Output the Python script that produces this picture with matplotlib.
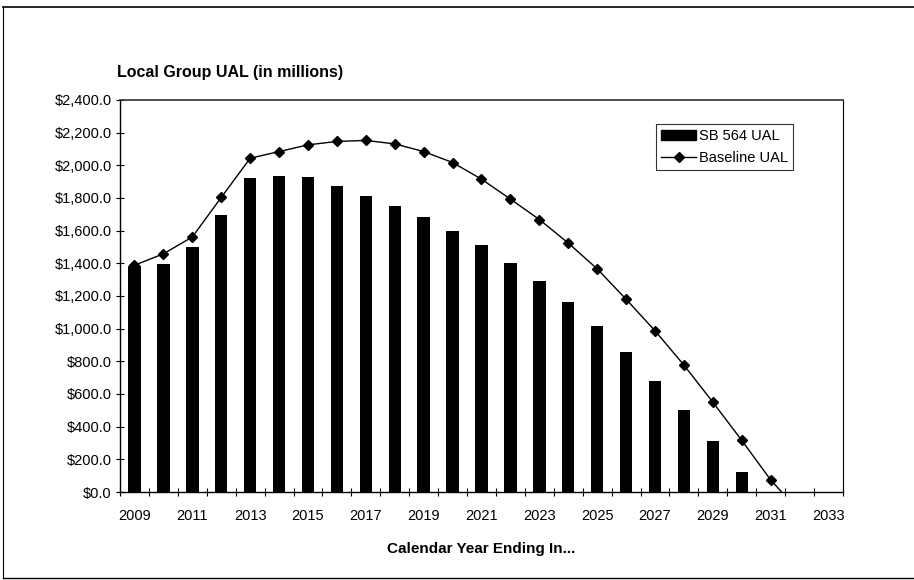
import matplotlib
matplotlib.use("Agg")
import matplotlib.pyplot as plt
from matplotlib.ticker import FuncFormatter, FixedLocator
from matplotlib.lines import Line2D
import numpy as np

plt.rcParams['font.family'] = ['Liberation Sans', 'DejaVu Sans']

# Years on the category axis (Excel-style, one slot per year)
years = list(range(2009, 2034))

# SB 564 UAL, $ millions, 2009-2030
sb564_ual = [1385, 1393, 1497, 1694, 1924, 1937, 1926, 1873, 1809, 1750, 1682,
             1598, 1510, 1401, 1290, 1161, 1017, 857, 679, 500, 310, 125]

# Baseline UAL, $ millions, 2009-2032 (last point runs below the axis floor)
baseline_ual = [1388, 1458, 1561, 1803, 2043, 2084, 2125, 2146, 2152, 2131, 2084,
                2017, 1915, 1793, 1668, 1524, 1366, 1180, 987, 777, 550, 316, 74, -120]

fig = plt.figure(figsize=(9.14, 5.8), dpi=100)
ax = fig.add_axes([0.1313, 0.1517, 0.791, 0.676])

x_bar = np.arange(len(sb564_ual))
x_line = np.arange(len(baseline_ual))

ax.bar(x_bar, sb564_ual, width=0.43, color='black', zorder=2)
ax.plot(x_line, baseline_ual, color='black', lw=1.0, marker='D', markersize=5, zorder=3)

ax.set_xlim(-0.5, len(years) - 0.5)
ax.set_ylim(0, 2400)

# y axis: dollar labels every 200
ax.set_yticks(np.arange(0, 2401, 200))
ax.yaxis.set_major_formatter(FuncFormatter(lambda v, p: f"${v:,.1f}"))
ax.tick_params(axis='y', direction='inout', length=6, width=0.8, labelsize=10.5, pad=3)

# x axis: tick marks between categories, labels on every other year
ax.xaxis.set_major_locator(FixedLocator(np.arange(0, len(years), 2)))
ax.set_xticklabels([str(y) for y in years[::2]])
ax.xaxis.set_minor_locator(FixedLocator(np.arange(-0.5, len(years), 1)))
ax.tick_params(axis='x', which='major', length=0, labelsize=10.5, pad=12)
ax.tick_params(axis='x', which='minor', direction='inout', length=6, width=0.8)

for side in ['left', 'bottom']:
    ax.spines[side].set_linewidth(1.0)
ax.spines['top'].set_linewidth(1.2)
ax.spines['top'].set_color('#333333')
ax.spines['right'].set_linewidth(0.8)

fig.text(117 / 914, 1 - 72 / 580, "Local Group UAL (in millions)", fontsize=11.5,
         fontweight='bold', ha='left', va='center')
ax.set_xlabel("Calendar Year Ending In...", fontsize=11, fontweight='bold', labelpad=14)

handles = [plt.Rectangle((0, 0), 1, 1, color='black'),
           Line2D([], [], color='black', lw=1.0, marker='D', markersize=5)]
leg = ax.legend(handles, ["SB 564 UAL", "Baseline UAL"], loc='upper right',
                bbox_to_anchor=(0.931, 0.939), fontsize=10.5, frameon=True,
                fancybox=False, edgecolor='black', borderpad=0.35,
                handlelength=2.4, handletextpad=0.2, labelspacing=0.55,
                borderaxespad=0)
leg.get_frame().set_linewidth(0.8)

# outer chart frame (top, left, bottom)
fig.add_artist(Line2D([3 / 914, 3 / 914], [2 / 580, 1 - 7 / 580], transform=fig.transFigure,
                      color='black', lw=0.8))
fig.add_artist(Line2D([3 / 914, 1], [1 - 7 / 580, 1 - 7 / 580], transform=fig.transFigure,
                      color='black', lw=1.2))
fig.add_artist(Line2D([3 / 914, 1], [2 / 580, 2 / 580], transform=fig.transFigure,
                      color='black', lw=1.0))

fig.savefig("out.png", dpi=100)
